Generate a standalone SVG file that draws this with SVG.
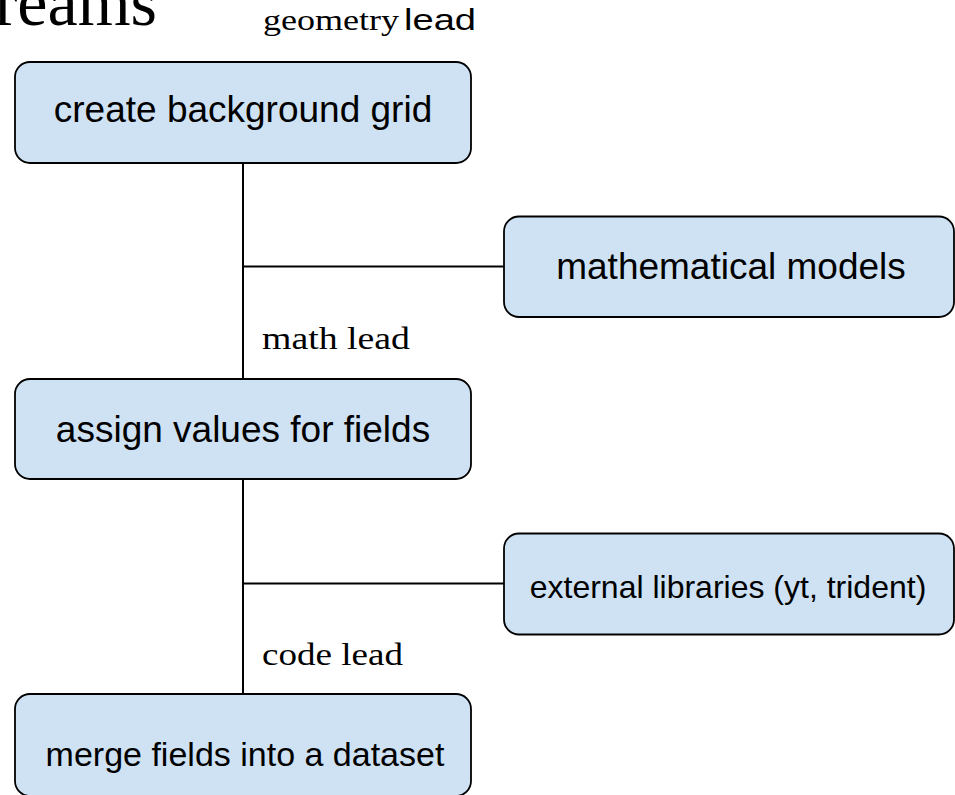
<svg xmlns="http://www.w3.org/2000/svg" width="955" height="795" viewBox="0 0 955 795">
<style>
.box{fill:#cfe2f3;stroke:#000;stroke-width:1.8}
.lbl{font-family:"Liberation Sans",Arial,sans-serif;fill:#000;text-anchor:middle}
.ser{font-family:"Liberation Serif","Times New Roman",serif;fill:#000}
.con{stroke:#000;stroke-width:2;fill:none}
</style>
<rect width="955" height="795" fill="#fff"/>
<text class="ser" x="157" y="25" font-size="68" text-anchor="end">reams</text>
<text x="263" y="30" font-size="29" class="ser" textLength="136" lengthAdjust="spacingAndGlyphs">geometry</text>
<text x="404" y="30" font-size="29" font-family="Liberation Sans, Arial, sans-serif" textLength="72" lengthAdjust="spacingAndGlyphs">lead</text>
<g id="connectors">
<line class="con" x1="243" y1="163" x2="243" y2="379"/>
<line class="con" x1="243" y1="266.5" x2="504" y2="266.5"/>
<line class="con" x1="243" y1="479" x2="243" y2="694"/>
<line class="con" x1="243" y1="583.5" x2="504" y2="583.5"/>
</g>
<text class="ser" x="262" y="349" font-size="31" textLength="148" lengthAdjust="spacingAndGlyphs">math lead</text>
<text class="ser" x="262" y="665" font-size="31" textLength="141" lengthAdjust="spacingAndGlyphs">code lead</text>
<g id="n1">
<rect class="box" x="15" y="62" width="456" height="101" rx="15"/>
<text class="lbl" x="243" y="122" font-size="37">create background grid</text>
</g>
<g id="n2">
<rect class="box" x="504" y="216.5" width="450" height="100.5" rx="15"/>
<text class="lbl" x="731" y="279" font-size="37">mathematical models</text>
</g>
<g id="n3">
<rect class="box" x="15" y="379" width="456" height="100" rx="15"/>
<text class="lbl" x="243" y="442" font-size="37">assign values for fields</text>
</g>
<g id="n5">
<rect class="box" x="504" y="533.5" width="450" height="101" rx="15"/>
<text class="lbl" x="728" y="598" font-size="32">external libraries (yt, trident)</text>
</g>
<g id="n4">
<rect class="box" x="15" y="694" width="456" height="102" rx="15"/>
<text class="lbl" x="245" y="766" font-size="34">merge fields into a dataset</text>
</g>
</svg>
